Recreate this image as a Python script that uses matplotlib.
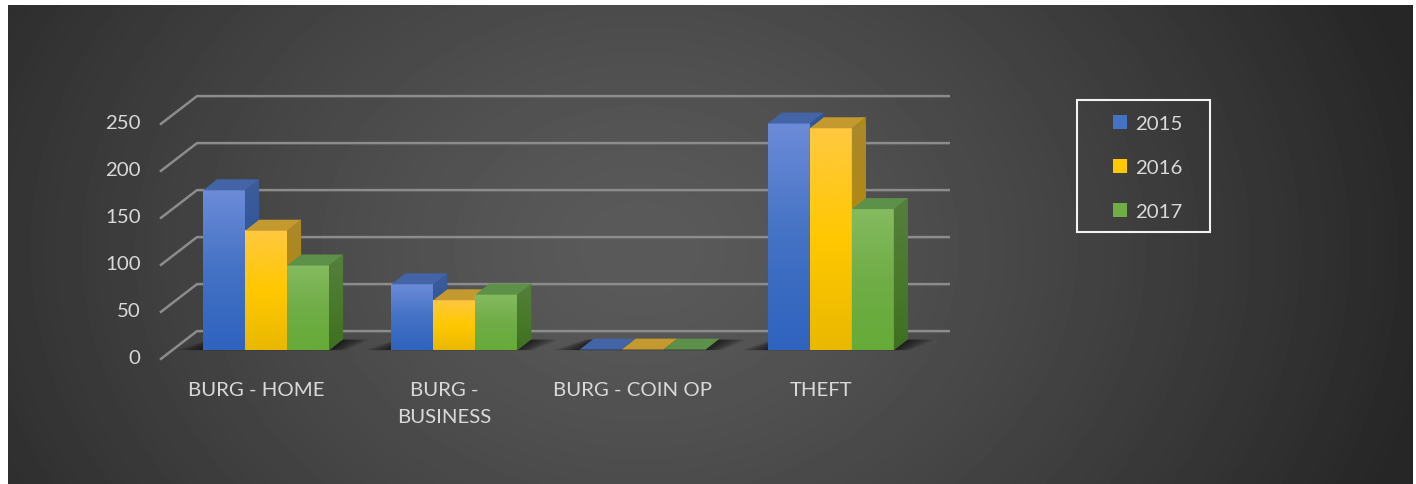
import numpy as np
import matplotlib
matplotlib.use("Agg")
import matplotlib.pyplot as plt
from matplotlib.patches import Polygon, Rectangle
from matplotlib.colors import LinearSegmentedColormap
from matplotlib.transforms import ScaledTranslation

categories = ["BURG - HOME", "BURG -\nBUSINESS", "BURG - COIN OP", "THEFT"]
years = ["2015", "2016", "2017"]
values_2015 = [170, 70, 0.5, 241]
values_2016 = [127, 53, 0.5, 236]
values_2017 = [90, 59, 0.5, 150]
y_ticks = [0, 50, 100, 150, 200, 250]

W, H = 1416, 485
plt.rcParams["font.family"] = ["Lato", "DejaVu Sans"]
TXT = "#d9d9d9"
FS = 14.7

front_cols = [["#6c8bd8", "#4472c4", "#2f63bf"],
              ["#ffc840", "#ffc800", "#eab800"],
              ["#85bb60", "#70ad47", "#66ab38"]]
side_cols = [["#3d5c9c", "#2f5597", "#2b5298"],
             ["#ab882c", "#b08a10", "#a88408"],
             ["#567f3e", "#4a7a2c", "#3f6f20"]]
top_cols = ["#4364a6", "#c49a30", "#5d9048"]

fig = plt.figure(figsize=(W / 100, H / 100), dpi=100, facecolor="white")

# background panel
bg = fig.add_axes([0, 0, 1, 1], zorder=0)
bg.set_axis_off()
yy, xx = np.mgrid[0:H, 0:W]
r = np.sqrt(((xx - 640) / 800.0) ** 2 + ((yy - 250) / 620.0) ** 2)
shade = np.clip(0.355 - 0.205 * np.clip(r, 0, 1) ** 1.3, 0, 1)
bg.imshow(shade, cmap="gray", vmin=0, vmax=1, extent=[0, W, H, 0], aspect="auto")
bg.add_patch(Rectangle((0, 0), 7.5, H, color="white", lw=0))
bg.add_patch(Rectangle((0, 0), W, 5.5, color="white", lw=0))
bg.add_patch(Rectangle((W - 3, 0), 3, H, color="white", lw=0))
bg.set_xlim(0, W)
bg.set_ylim(H, 0)

# plotting axes: front floor edge of the 3-D box
left, right, bottom, top = 160, 913, 360.6, 125.6
ax = fig.add_axes([left / W, 1 - bottom / H, (right - left) / W, (bottom - top) / H], zorder=1)
ax.patch.set_visible(False)
ax.set_xlim(-0.5, 3.5)
ax.set_ylim(0, 250)
for s in ax.spines.values():
    s.set_visible(False)

PX = 4.0 / (right - left)      # x data per pixel
PY = 250.0 / (bottom - top)    # y data per pixel

# gridlines: side wall + back wall
GDX, GDY = 37 * PX, 28.5 * PY
for v in y_ticks:
    ax.plot([-0.5, -0.5 + GDX, 3.5 + GDX], [v, v + GDY, v + GDY],
            color="#8c8c8c", lw=1.8, clip_on=False, zorder=1, solid_capstyle="butt")

# bars sit in the middle of the floor
BX, BY = 12 * PX, 9.5 * PY
DX, DY = 14 * PX, 11 * PY
bw = 42 * PX
series = [values_2015, values_2016, values_2017]
z = 3


def vcmap(c):
    return LinearSegmentedColormap.from_list("c", c)


grad = np.linspace(0, 1, 128).reshape(-1, 1)

# floor shadows
for i in range(len(categories)):
    L = i - 1.5 * bw + BX
    R = i + 1.5 * bw + BX
    for k in range(8):
        e = (2 + k * 3.5) * PX
        ax.add_patch(Polygon([(L - e, BY), (R + e * 0.6, BY),
                              (R + DX + e, BY + DY * 0.95), (L + DX - e * 0.3, BY + DY * 0.95)],
                             closed=True, fc="black", ec="none", alpha=0.1,
                             zorder=2, clip_on=False))

for i in range(len(categories)):
    for j, vals in enumerate(series):
        v = vals[i]
        x0 = i + (j - 1.5) * bw + BX
        x1 = x0 + bw
        y0 = BY
        y1 = BY + v
        # front face, painted from the value with a vertical gradient
        bars = ax.bar(x0 + bw / 2, v, bw, bottom=BY, color=front_cols[j][1], zorder=z, clip_on=False)
        if v > 2:
            ax.imshow(grad, cmap=vcmap(front_cols[j]), extent=[x0, x1, y0, y1], aspect="auto",
                      origin="upper", zorder=z + 0.1, interpolation="bilinear", clip_on=False)
        # side face
        if v > 2:
            sp = Polygon([(x1, y0), (x1, y1), (x1 + DX, y1 + DY), (x1 + DX, y0 + DY)], closed=True,
                         fc=side_cols[j][1], ec="none", zorder=z + 0.2, clip_on=False)
            ax.add_patch(sp)
            im = ax.imshow(grad, cmap=vcmap(side_cols[j]), extent=[x1, x1 + DX, y0, y1 + DY],
                           aspect="auto", origin="upper", zorder=z + 0.3, interpolation="bilinear",
                           clip_on=True)
            im.set_clip_path(sp)
        # top face
        ax.add_patch(Polygon([(x0, y1), (x1, y1), (x1 + DX, y1 + DY), (x0 + DX, y1 + DY)], closed=True,
                             fc=top_cols[j], ec="none", zorder=z + 0.4, clip_on=False))
        z += 1

ax.set_xlim(-0.5, 3.5)
ax.set_ylim(0, 250)

# ticks
ax.set_yticks(y_ticks)
ax.set_xticks(range(len(categories)))
ax.set_xticklabels(categories, linespacing=1.72)
ax.tick_params(axis="both", length=0, colors=TXT, labelsize=FS)
ax.tick_params(axis="y", pad=14)
ax.tick_params(axis="x", pad=15.5)
up = ScaledTranslation(0, 4 / 100, fig.dpi_scale_trans)
for t in ax.yaxis.get_major_ticks():
    t.label1.set_transform(t.label1.get_transform() + up)
shift = ScaledTranslation(2 / 100, 0, fig.dpi_scale_trans)
for t in ax.xaxis.get_major_ticks():
    t.label1.set_transform(t.label1.get_transform() + shift)

# legend
handles = [Rectangle((0, 0), 1, 1, fc=front_cols[j][1], ec="none") for j in range(3)]
leg = fig.legend(handles, years, loc="upper left",
                 bbox_to_anchor=(1112.5 / W, 1 - 116 / H), frameon=False, fontsize=FS,
                 handlelength=0.7, handleheight=0.7, handletextpad=0.42, labelspacing=1.3,
                 borderpad=0, borderaxespad=0, labelcolor=TXT)
leg.set_zorder(5)
frame = Rectangle((1076.5 / W, 1 - 232.5 / H), 133.5 / W, 131.5 / H, transform=fig.transFigure,
                  fc="none", ec="#f2f2f2", lw=1.5, zorder=5)
fig.add_artist(frame)

fig.savefig("out.png", dpi=100, facecolor="white")
